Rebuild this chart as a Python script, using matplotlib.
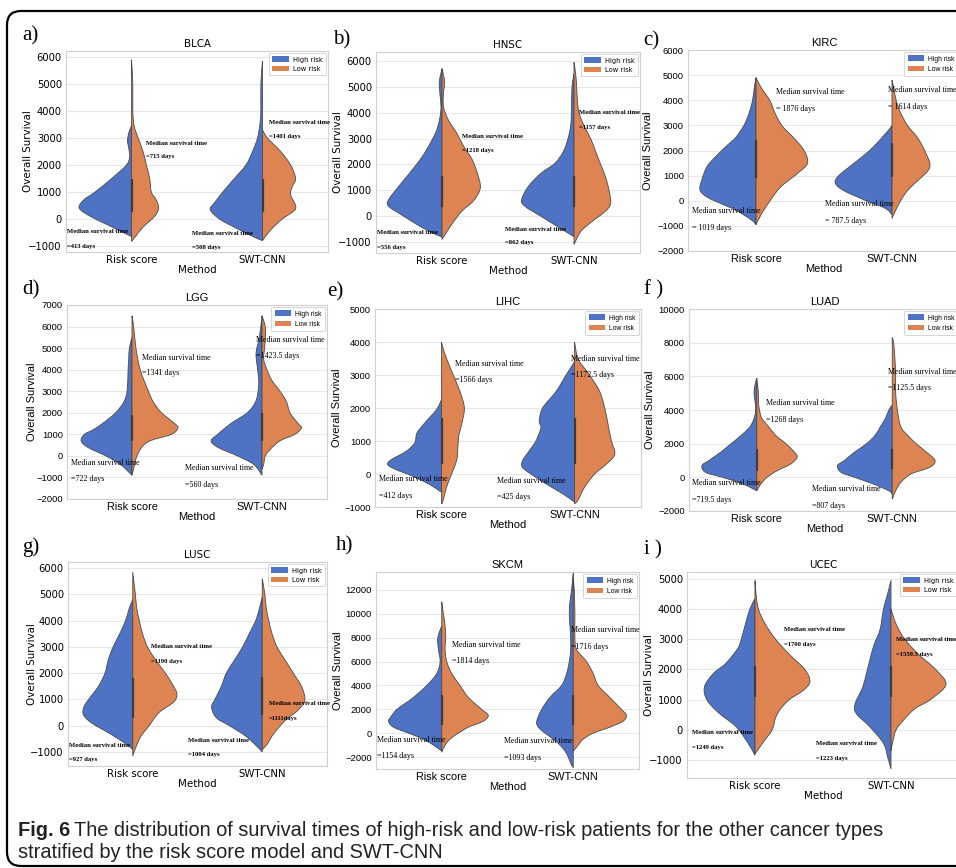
import numpy as np
import matplotlib
matplotlib.use("Agg")
import matplotlib.pyplot as plt
from matplotlib.path import Path
from matplotlib.patches import PathPatch, FancyBboxPatch, Patch
from matplotlib.transforms import IdentityTransform

# ---------------- data ----------------
CANCERS = ["BLCA", "HNSC", "KIRC", "LGG", "LIHC", "LUAD", "LUSC", "SKCM", "UCEC"]
PANEL_LABELS = ["a)", "b)", "c)", "d)", "e)", "f )", "g)", "h)", "i )"]
METHODS = ["Risk score", "SWT-CNN"]
GROUPS = ["High risk", "Low risk"]

# median survival annotations: RS high-risk, RS low-risk, SWT high-risk, SWT low-risk
MED_RS_HIGH = ["=413 days", "=556 days", "= 1019 days", "=722 days", "=412 days",
               "=719.5 days", "=927 days", "=1154 days", "=1249 days"]
MED_RS_LOW = ["=715 days", "=1218 days", "= 1876 days", "=1341 days", "=1566 days",
              "=1268 days", "=1190 days", "=1814 days", "=1700 days"]
MED_SWT_HIGH = ["=508 days", "=862 days", "= 787.5 days", "=560 days", "=425 days",
                "=807 days", "=1004 days", "=1093 days", "=1223 days"]
MED_SWT_LOW = ["=1401 days", "=1157 days", "= 1614 days", "=1423.5 days", "=1172.5 days",
               "=1125.5 days", "=1111days", "=1716 days", "=1559.5 days"]

# inner box (q1, q3) per panel
BOX_RS = [(250, 1500), (350, 1550), (900, 2400), (700, 1900), (300, 1700),
          (400, 1700), (300, 1800), (700, 3200), (1100, 2100)]
BOX_SWT = [(250, 1500), (350, 1550), (950, 2280), (700, 2000), (300, 1700),
           (500, 1700), (400, 1850), (700, 3200), (1100, 2100)]

# density profiles (survival days, relative density) for each half-violin
BLCA_RS_HI = [(3450, 0), (3200, 8), (2900, 12), (2600, 8), (2300, 6), (2000, 15), (1500, 60), (1000, 110),
              (700, 145), (400, 158), (100, 125), (-200, 75), (-500, 25), (-650, 0)]
BLCA_RS_LO = [(5900, 0), (5000, 4), (4000, 4), (3450, 8), (3000, 20), (2500, 35), (2000, 45), (1500, 55),
              (1000, 60), (700, 75), (400, 82), (100, 70), (-300, 35), (-650, 12), (-830, 0)]
BLCA_SWT_HI = [(5850, 0), (5000, 5), (4000, 5), (3500, 8), (3000, 15), (2500, 30), (2000, 50), (1500, 85),
               (1000, 120), (600, 145), (350, 158), (0, 130), (-400, 70), (-700, 20), (-800, 0)]
BLCA_SWT_LO = [(3300, 0), (3000, 15), (2500, 55), (2000, 85), (1500, 100), (1200, 90), (900, 85),
               (500, 100), (300, 95), (0, 60), (-400, 25), (-800, 0)]

HNSC_RS_HI = [(5700, 0), (5200, 8), (4700, 6), (4200, 3), (3700, 8), (3200, 20), (2600, 45), (2200, 65),
              (1700, 95), (1150, 130), (640, 160), (380, 160), (0, 115), (-400, 65), (-700, 20), (-800, 0)]
HNSC_RS_LO = [(5700, 0), (5200, 8), (4700, 4), (4200, 5), (3700, 20), (3200, 45), (2700, 65), (2200, 90),
              (1700, 105), (1100, 115), (600, 95), (200, 60), (-300, 30), (-700, 10), (-900, 0)]
HNSC_SWT_HI = [(5500, 0), (5000, 6), (4000, 8), (3500, 10), (3000, 18), (2500, 32), (2050, 57), (1650, 100),
               (1150, 137), (640, 157), (380, 147), (0, 100), (-400, 50), (-700, 12), (-800, 0)]
HNSC_SWT_LO = [(5950, 0), (5500, 5), (5000, 8), (4500, 10), (4000, 15), (3500, 30), (3000, 50), (2500, 65),
               (2000, 80), (1500, 95), (1000, 105), (500, 110), (200, 95), (-200, 55), (-600, 20), (-1100, 0)]

KIRC_RS_HI = [(4900, 0), (4500, 5), (4000, 10), (3500, 20), (3000, 35), (2500, 60), (2280, 78), (1750, 118),
              (1350, 143), (820, 158), (420, 163), (150, 143), (-110, 103), (-380, 58), (-770, 13), (-950, 0)]
KIRC_RS_LO = [(4900, 0), (4500, 15), (4000, 40), (3500, 55), (3000, 75), (2500, 110), (2000, 140),
              (1500, 150), (1100, 122), (550, 72), (20, 42), (-500, 17), (-950, 0)]
KIRC_SWT_HI = [(3000, 0), (2900, 5), (2500, 30), (2000, 65), (1500, 110), (1000, 155), (700, 165),
               (400, 140), (0, 75), (-300, 20), (-550, 0)]
KIRC_SWT_LO = [(4800, 0), (4500, 5), (4000, 12), (3500, 25), (3000, 45), (2500, 75), (2000, 95),
               (1500, 110), (1200, 105), (800, 75), (400, 45), (0, 25), (-400, 10), (-700, 0)]

LGG_RS_HI = [(5500, 0), (5000, 8), (4500, 10), (4000, 12), (3000, 15), (2500, 25), (2000, 50), (1500, 90),
             (1200, 120), (1000, 145), (700, 155), (400, 135), (0, 80), (-400, 35), (-900, 0)]
LGG_RS_LO = [(6500, 0), (6000, 5), (5000, 12), (4000, 25), (3000, 50), (2500, 65), (2000, 90), (1500, 130),
             (1300, 140), (1000, 120), (700, 55), (400, 30), (0, 15), (-400, 8), (-900, 0)]
LGG_SWT_HI = [(6500, 0), (5500, 8), (4800, 18), (4200, 15), (3500, 10), (3000, 12), (2500, 20), (2000, 45),
              (1500, 95), (1000, 135), (700, 155), (400, 135), (0, 75), (-400, 25), (-900, 0)]
LGG_SWT_LO = [(6500, 0), (6000, 10), (5500, 10), (5000, 8), (4500, 5), (4000, 15), (3500, 30), (3000, 55),
              (2500, 75), (2000, 85), (1500, 110), (1300, 120), (1000, 100), (700, 55), (300, 25),
              (0, 10), (-400, 5), (-600, 0)]

LIHC_RS_HI = [(2250, 0), (1950, 15), (1545, 50), (1240, 73), (940, 80), (690, 105), (430, 150), (280, 160),
              (130, 135), (-70, 85), (-320, 35), (-520, 5), (-550, 0)]
LIHC_RS_LO = [(4000, 0), (3800, 5), (3500, 15), (3000, 35), (2500, 55), (2000, 68), (1500, 60), (1200, 52),
              (1000, 50), (700, 48), (400, 45), (0, 30), (-400, 15), (-800, 5), (-900, 0)]
LIHC_SWT_HI = [(3400, 0), (3000, 25), (2500, 55), (2000, 95), (1600, 105), (1400, 100), (1000, 115),
               (700, 135), (400, 155), (200, 155), (0, 130), (-300, 85), (-600, 35), (-850, 0)]
LIHC_SWT_LO = [(4000, 0), (3500, 10), (3200, 30), (3000, 45), (2500, 75), (2000, 90), (1500, 100),
               (1000, 110), (600, 120), (300, 95), (0, 60), (-400, 30), (-800, 10), (-900, 0)]

LUAD_RS_HI = [(5900, 0), (5500, 5), (5000, 8), (4500, 5), (4000, 3), (3500, 8), (3000, 20), (2500, 45),
              (2000, 75), (1500, 105), (1000, 140), (700, 160), (300, 150), (0, 100), (-400, 40), (-800, 0)]
LUAD_RS_LO = [(5900, 0), (5000, 5), (4500, 5), (4000, 8), (3500, 15), (3000, 35), (2500, 55), (2000, 85),
              (1500, 110), (1200, 118), (800, 100), (400, 60), (0, 30), (-400, 12), (-800, 0)]
LUAD_SWT_HI = [(4300, 0), (4000, 10), (3500, 20), (3000, 35), (2500, 50), (2000, 75), (1500, 110),
               (1000, 140), (700, 160), (300, 150), (0, 110), (-400, 55), (-800, 10), (-1000, 0)]
LUAD_SWT_LO = [(8300, 0), (8000, 4), (7000, 8), (6000, 10), (5000, 10), (4000, 15), (3000, 25), (2500, 45),
               (2000, 70), (1500, 100), (1000, 125), (600, 110), (200, 55), (-300, 25), (-800, 10), (-1300, 0)]

LUSC_RS_HI = [(4800, 0), (4500, 10), (4000, 22), (3500, 40), (3000, 60), (2500, 75), (2000, 85), (1500, 105),
              (1000, 135), (700, 150), (400, 150), (100, 125), (-300, 70), (-700, 20), (-900, 0)]
LUSC_RS_LO = [(5850, 0), (5000, 8), (4500, 12), (4000, 20), (3500, 30), (3000, 45), (2500, 70), (2000, 100),
              (1500, 125), (1200, 135), (900, 125), (500, 80), (0, 50), (-400, 25), (-800, 10), (-1150, 0)]
LUSC_SWT_HI = [(4900, 0), (4500, 8), (4000, 20), (3500, 40), (3000, 60), (2500, 85), (2000, 110), (1500, 125),
               (1000, 145), (700, 155), (300, 140), (0, 100), (-400, 50), (-800, 15), (-1000, 0)]
LUSC_SWT_LO = [(5600, 0), (5000, 8), (4500, 12), (4000, 20), (3500, 30), (3000, 45), (2500, 70), (2000, 95),
               (1500, 120), (1000, 130), (600, 110), (200, 70), (-300, 35), (-700, 15), (-900, 0)]

SKCM_RS_HI = [(9000, 0), (8000, 12), (7000, 10), (6000, 5), (5000, 15), (4000, 45), (3000, 85), (2500, 110),
              (2000, 135), (1500, 150), (1000, 160), (500, 145), (0, 100), (-500, 55), (-1000, 25), (-1500, 0)]
SKCM_RS_LO = [(11000, 0), (10000, 5), (9000, 10), (8000, 12), (7000, 10), (6000, 15), (5000, 30), (4000, 55),
              (3000, 80), (2000, 120), (1500, 140), (1000, 125), (500, 80), (0, 50), (-500, 25), (-1000, 10),
              (-1600, 0)]
SKCM_SWT_HI = [(13400, 0), (12000, 5), (11000, 10), (10000, 12), (9000, 10), (8000, 8), (7000, 8), (6000, 12),
               (5000, 20), (4000, 35), (3000, 70), (2000, 95), (1000, 110), (500, 105), (0, 85), (-500, 60),
               (-1000, 40), (-1500, 25), (-2000, 15), (-2500, 8), (-2900, 0)]
SKCM_SWT_LO = [(13000, 0), (12000, 3), (10000, 5), (8000, 5), (7000, 10), (6000, 40), (5000, 60), (4000, 75),
               (3000, 110), (2000, 145), (1500, 160), (1000, 150), (500, 110), (0, 60), (-500, 30), (-1000, 15),
               (-1500, 0)]

UCEC_RS_HI = [(4350, 0), (4000, 15), (3500, 28), (3000, 40), (2700, 50), (2200, 85), (1880, 120), (1430, 147),
              (990, 140), (550, 105), (100, 55), (-450, 20), (-850, 0)]
UCEC_RS_LO = [(4950, 0), (4500, 3), (4000, 10), (3500, 30), (3000, 60), (2500, 100), (2000, 145), (1600, 160),
              (1300, 140), (1000, 100), (700, 75), (400, 60), (0, 50), (-400, 25), (-800, 0)]
UCEC_SWT_HI = [(4950, 0), (4500, 10), (4000, 22), (3320, 32), (2800, 50), (2210, 64), (1430, 82), (880, 104),
               (550, 102), (100, 62), (-450, 22), (-900, 10), (-1300, 0)]
UCEC_SWT_LO = [(4000, 0), (3500, 15), (3000, 40), (2500, 80), (2000, 130), (1500, 160), (1000, 115), (700, 70),
               (300, 35), (0, 15), (-400, 5), (-700, 0)]

PROFILES = [
    (BLCA_RS_HI, BLCA_RS_LO, BLCA_SWT_HI, BLCA_SWT_LO),
    (HNSC_RS_HI, HNSC_RS_LO, HNSC_SWT_HI, HNSC_SWT_LO),
    (KIRC_RS_HI, KIRC_RS_LO, KIRC_SWT_HI, KIRC_SWT_LO),
    (LGG_RS_HI, LGG_RS_LO, LGG_SWT_HI, LGG_SWT_LO),
    (LIHC_RS_HI, LIHC_RS_LO, LIHC_SWT_HI, LIHC_SWT_LO),
    (LUAD_RS_HI, LUAD_RS_LO, LUAD_SWT_HI, LUAD_SWT_LO),
    (LUSC_RS_HI, LUSC_RS_LO, LUSC_SWT_HI, LUSC_SWT_LO),
    (SKCM_RS_HI, SKCM_RS_LO, SKCM_SWT_HI, SKCM_SWT_LO),
    (UCEC_RS_HI, UCEC_RS_LO, UCEC_SWT_HI, UCEC_SWT_LO),
]

Y_LIMITS = [(-1222, 6222), (-1425, 6350), (-2000, 6000), (-2000, 7000), (-1000, 5000),
            (-2000, 10000), (-1530, 6230), (-3000, 13500), (-1600, 5230)]
Y_TICKS = [np.arange(-1000, 6001, 1000), np.arange(-1000, 6001, 1000), np.arange(-2000, 6001, 1000),
           np.arange(-2000, 7001, 1000), np.arange(-1000, 5001, 1000), np.arange(-2000, 10001, 2000),
           np.arange(-1000, 6001, 1000), np.arange(-2000, 12001, 2000), np.arange(-1000, 5001, 1000)]

# ---------------- layout / style ----------------
W, H = 956, 868
BLUE = "#4E72C4"
ORANGE = "#DD8452"
DENS_SCALE = 1.0 / 396.0

# axes boxes in pixels: left, right, top, bottom
AX_BOX = [(66, 328, 51, 252), (376, 640, 52, 253), (688, 960, 50, 251),
          (67, 327, 305, 499), (375, 641, 309, 507), (689, 960, 309, 511),
          (68, 327, 562, 766), (376, 639, 572, 769), (687, 959, 572, 778)]
YLABEL_X = [28, 338, 648, 32, 337, 650, 32, 338, 649]
LABEL_POS = [(22, 36), (333, 40), (643, 41), (22, 290), (327, 292), (644, 290),
             (22, 547), (336, 546), (644, 550)]
# annotation placement: (x, y line1, y line2) for RS-high, RS-low, SWT-high, SWT-low
ANNOT_POS = [
    [(-0.49, -460, -1010), (0.11, 2810, 2300), (0.46, -520, -1040), (1.05, 3580, 3040)],
    [(-0.49, -650, -1230), (0.15, 3100, 2530), (0.48, -500, -1030), (1.04, 4000, 3430)],
    [(-0.47, -405, -1080), (0.15, 4340, 3660), (0.51, -140, -800), (0.97, 4400, 3740)],
    [(-0.47, -310, -1070), (0.08, 4560, 3830), (0.41, -570, -1350), (0.95, 5380, 4640)],
    [(-0.47, -150, -660), (0.10, 3330, 2840), (0.42, -200, -700), (0.97, 3480, 3000)],
    [(-0.48, -320, -1330), (0.07, 4430, 3420), (0.41, -680, -1690), (0.97, 6280, 5290)],
    [(-0.49, -760, -1290), (0.14, 3000, 2460), (0.43, -560, -1100), (1.05, 830, 260)],
    [(-0.49, -550, -1950), (0.08, 7380, 6030), (0.47, -690, -2090), (0.98, 8640, 7240)],
    [(-0.46, -100, -590), (0.21, 3320, 2820), (0.45, -450, -950), (1.04, 2980, 2490)],
]
DEJAVU_STYLE = [True, True, False, False, False, False, True, False, True]


def catmull_path(pts):
    P = np.asarray(pts, float)
    n = len(P)
    verts = [P[0]]
    codes = [Path.MOVETO]
    for i in range(n - 1):
        p0 = P[i - 1] if i > 0 else P[i]
        p1, p2 = P[i], P[i + 1]
        p3 = P[i + 2] if i + 2 < n else P[i + 1]
        verts += [p1 + (p2 - p0) / 6.0, p2 - (p3 - p1) / 6.0, p2]
        codes += [Path.CURVE4] * 3
    return verts, codes


def half_violin(ax, center, profile, side, color):
    pts = [(center + side * w * DENS_SCALE, y) for y, w in profile]
    pts[0] = (center, profile[0][0])
    pts[-1] = (center, profile[-1][0])
    verts, codes = catmull_path(pts)
    verts.append((center, profile[0][0]))
    codes.append(Path.LINETO)
    verts.append((center, profile[0][0]))
    codes.append(Path.CLOSEPOLY)
    patch = PathPatch(Path(verts, codes), facecolor=color, edgecolor="#4a4a4a",
                      linewidth=0.6, zorder=2)
    ax.add_patch(patch)


fig = plt.figure(figsize=(W / 100, H / 100), dpi=100)

# outer rounded frame
frame = FancyBboxPatch((7, 2), 990, 855, boxstyle="round,pad=0,rounding_size=14",
                       transform=IdentityTransform(), facecolor="none", edgecolor="black",
                       linewidth=1.6)
fig.patches.append(frame)

for k, name in enumerate(CANCERS):
    l, r, t, b = AX_BOX[k]
    ax = fig.add_axes([l / W, 1 - b / H, (r - l) / W, (b - t) / H])
    if DEJAVU_STYLE[k]:
        sans = ["DejaVu Sans"]
        tick_fs, lab_fs = 7.2, 7.4
        ann_kw = dict(family=["Liberation Serif", "DejaVu Serif"], fontsize=4.8, fontweight="bold")
    else:
        sans = ["Liberation Sans", "DejaVu Sans"]
        tick_fs, lab_fs = 6.8, 8.0
        ann_kw = dict(family=["Liberation Serif", "DejaVu Serif"], fontsize=5.8)

    ax.set_xlim(-0.5, 1.5)
    ax.set_ylim(*Y_LIMITS[k])
    ax.set_yticks(Y_TICKS[k])
    ax.set_xticks([0, 1])
    ax.set_xticklabels(METHODS, family=sans, fontsize=lab_fs * 0.98)
    for tl in ax.get_yticklabels():
        tl.set_family(sans)
        tl.set_fontsize(tick_fs)
    ax.tick_params(axis="y", length=0, pad=3)
    ax.tick_params(axis="x", length=0, pad=2)
    ax.grid(axis="y", color="#e6e6e6", linewidth=0.8, zorder=0)
    ax.set_axisbelow(True)
    for sp in ax.spines.values():
        sp.set_color("#d0d0d0")
        sp.set_linewidth(0.8)
    ax.set_title(name, family=sans, fontsize=lab_fs, pad=3)
    ax.set_xlabel("Method", family=sans, fontsize=lab_fs, labelpad=0)
    ax.set_ylabel("Overall Survival", family=sans, fontsize=lab_fs, va="center")
    ax.yaxis.set_label_coords((YLABEL_X[k] - l) / (r - l), 0.5)

    rs_hi, rs_lo, swt_hi, swt_lo = PROFILES[k]
    half_violin(ax, 0, rs_hi, -1, BLUE)
    half_violin(ax, 0, rs_lo, 1, ORANGE)
    half_violin(ax, 1, swt_hi, -1, BLUE)
    half_violin(ax, 1, swt_lo, 1, ORANGE)
    for c, (q1, q3) in zip([0, 1], [BOX_RS[k], BOX_SWT[k]]):
        ax.plot([c, c], [q1, q3], color="#3c3c3c", linewidth=1.6, solid_capstyle="butt", zorder=3)

    texts = [MED_RS_HIGH[k], MED_RS_LOW[k], MED_SWT_HIGH[k], MED_SWT_LOW[k]]
    for (x, y1, y2), txt in zip(ANNOT_POS[k], texts):
        ax.text(x, y1, "Median survival time", ha="left", va="center", zorder=4, clip_on=False, **ann_kw)
        ax.text(x, y2, txt, ha="left", va="center", zorder=4, clip_on=False, **ann_kw)

    handles = [Patch(facecolor=BLUE, edgecolor="none", label=GROUPS[0]),
               Patch(facecolor=ORANGE, edgecolor="none", label=GROUPS[1])]
    leg = ax.legend(handles=handles, loc="upper right", prop=dict(family=sans, size=4.9),
                    frameon=True, framealpha=1, edgecolor="#d0d0d0", fancybox=True,
                    borderpad=0.5, handlelength=2.4, handleheight=0.9, labelspacing=0.45,
                    handletextpad=0.6, borderaxespad=0.3)
    leg.get_frame().set_linewidth(0.6)

    lx, ly = LABEL_POS[k]
    fig.text(lx / W, 1 - ly / H, PANEL_LABELS[k], family=["Liberation Serif", "DejaVu Serif"],
             fontsize=15, ha="left", va="center")

# caption
cap_family = ["Liberation Sans", "DejaVu Sans"]
cap_fs = 14.4
t1 = fig.text(18 / W, 1 - 836 / H, "Fig. 6", family=cap_family, fontsize=cap_fs,
              fontweight="bold", ha="left", va="baseline", color="#222222")
fig.canvas.draw()
bb = t1.get_window_extent(renderer=fig.canvas.get_renderer())
fig.text((bb.x1 + 4) / W, 1 - 836 / H,
         "The distribution of survival times of high-risk and low-risk patients for the other cancer types",
         family=cap_family, fontsize=cap_fs, ha="left", va="baseline", color="#222222")
fig.text(18 / W, 1 - 858 / H, "stratified by the risk score model and SWT-CNN",
         family=cap_family, fontsize=cap_fs, ha="left", va="baseline", color="#222222")

fig.savefig("out.png", dpi=100)
